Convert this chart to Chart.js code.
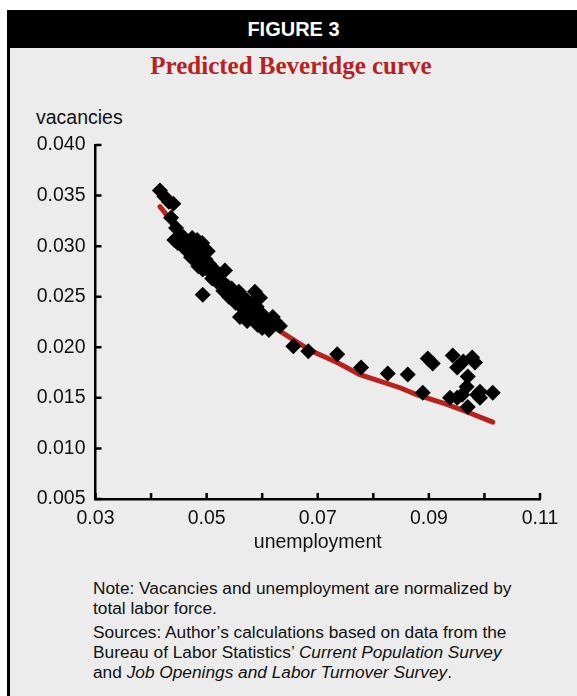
<!DOCTYPE html>
<html>
<head>
<meta charset="utf-8">
<script src="https://cdn.jsdelivr.net/npm/chart.js@4.4.1/dist/chart.umd.min.js"></script>
<style>
  html, body { margin: 0; padding: 0; background: #fff; }
  body { width: 577px; height: 696px; position: relative; overflow: hidden;
         font-family: "Liberation Sans", Arial, Helvetica, sans-serif; }
  #frame { position: absolute; left: 7px; top: 10px; width: 600px; height: 700px;
           background: #ececec; border-left: 3px solid #000; }
  #head { position: absolute; left: 7px; top: 10px; width: 600px; height: 38px; background: #000; }
  #head span { position: absolute; left: 0; width: 573px; top: 8px; text-align: center;
               color: #fff; font-weight: bold; font-size: 20px; }
  #title { position: absolute; left: 0; width: 582px; top: 52px; text-align: center;
           font-family: "Liberation Serif", "Times New Roman", serif; font-weight: bold;
           font-size: 25px; color: #b5231f; }
  #ylab { position: absolute; left: 36px; top: 106px; font-size: 19.5px; color: #111; }
  #chartBox { position: absolute; left: 0; top: 0; width: 577px; height: 560px; }
  #note { position: absolute; left: 93px; top: 578px; width: 480px; font-size: 17.3px;
          color: #111; line-height: 20px; }
  #note p { margin: 0 0 4px 0; }
  #note i { font-style: italic; }
</style>
</head>
<body>
<div id="frame"></div>
<div id="head"><span>FIGURE 3</span></div>
<div id="title">Predicted Beveridge curve</div>
<div id="ylab">vacancies</div>
<div id="chartBox"><canvas id="chart" width="577" height="560"></canvas></div>
<div id="note">
  <p>Note: Vacancies and unemployment are normalized by<br>total labor force.</p>
  <p>Sources: Author’s calculations based on data from the<br>Bureau of Labor Statistics’ <i>Current Population Survey</i><br>and <i>Job Openings and Labor Turnover Survey</i>.</p>
</div>

<script>
/* ===============================
   Data
================================ */
const unempObs = [
  0.0416, 0.0424, 0.0432, 0.0440, 0.0436,
  0.0445, 0.0452, 0.0442, 0.0448, 0.0458, 0.0465, 0.0474, 0.0483, 0.0492,
  0.0460, 0.0470, 0.0478, 0.0486, 0.0495, 0.0502, 0.0472, 0.0480, 0.0490,
  0.0498, 0.0505, 0.0485, 0.0493, 0.0503, 0.0512, 0.0520, 0.0533, 0.0510,
  0.0518, 0.0493,
  0.0528, 0.0538, 0.0530, 0.0545, 0.0550, 0.0540, 0.0558, 0.0565, 0.0573,
  0.0587, 0.0596, 0.0580, 0.0552, 0.0562, 0.0570, 0.0578, 0.0590, 0.0560,
  0.0573, 0.0585, 0.0598, 0.0605, 0.0592, 0.0610, 0.0619, 0.0625, 0.0632,
  0.0612, 0.0600,
  0.0656, 0.0683, 0.0735, 0.0778, 0.0826, 0.0862, 0.0889, 0.0898, 0.0907,
  0.0938, 0.0943, 0.0951, 0.0962, 0.0978, 0.0983, 0.0970, 0.0968, 0.0960,
  0.0951, 0.0987, 0.0992, 0.1015, 0.0970, 0.0992
];
const vacObs = [
  0.0355, 0.0349, 0.0344, 0.0342, 0.0328,
  0.0318, 0.0311, 0.0306, 0.0303, 0.0309, 0.0304, 0.0308, 0.0306, 0.0303,
  0.0298, 0.0295, 0.0297, 0.0292, 0.0296, 0.0295, 0.0289, 0.0286, 0.0284,
  0.0287, 0.0282, 0.0280, 0.0277, 0.0276, 0.0278, 0.0272, 0.0276, 0.0268,
  0.0265, 0.0252,
  0.0265, 0.0260, 0.0256, 0.0258, 0.0252, 0.0250, 0.0255, 0.0250, 0.0246,
  0.0255, 0.0249, 0.0243, 0.0244, 0.0240, 0.0236, 0.0238, 0.0240, 0.0230,
  0.0226, 0.0232, 0.0234, 0.0228, 0.0222, 0.0222, 0.0230, 0.0224, 0.0221,
  0.0217, 0.0219,
  0.0201, 0.0196, 0.0193, 0.0180, 0.0174, 0.0173, 0.0155, 0.0189, 0.0184,
  0.0150, 0.0192, 0.0180, 0.0186, 0.0190, 0.0185, 0.0171, 0.0161, 0.0153,
  0.0150, 0.0153, 0.0150, 0.0155, 0.0141, 0.0156
];
const unempPred = [
  0.0416, 0.0425, 0.0440, 0.0460, 0.0480, 0.0500, 0.0520, 0.0545, 0.0570,
  0.0600, 0.0632, 0.0686, 0.0735, 0.0776, 0.0848, 0.0879, 0.0930, 0.0969, 0.1015
];
const vacPred = [
  0.0339, 0.0333, 0.0321, 0.0305, 0.0291, 0.0278, 0.0265, 0.0250, 0.0237,
  0.0226, 0.0216, 0.0197, 0.0185, 0.0173, 0.0160, 0.0153, 0.0144, 0.0136, 0.0126
];
const xTicks = [0.03, 0.04, 0.05, 0.06, 0.07, 0.08, 0.09, 0.10, 0.11];
const xTickLabels = ["0.03", "", "0.05", "", "0.07", "", "0.09", "", "0.11"];
const yTicks = [0.005, 0.010, 0.015, 0.020, 0.025, 0.030, 0.035, 0.040];
const yTickLabels = ["0.005", "0.010", "0.015", "0.020", "0.025", "0.030", "0.035", "0.040"];

const FONT = "'Liberation Sans', Arial, Helvetica, sans-serif";

/* ===============================
   Inward tick marks
================================ */
const innerTicks = {
  id: "innerTicks",
  afterDraw(chart) {
    const { ctx, chartArea: a, scales: { x, y } } = chart;
    ctx.save();
    ctx.strokeStyle = "#000";
    ctx.lineWidth = 2.5;
    ctx.beginPath();
    xTicks.forEach(v => {
      const px = x.getPixelForValue(v);
      ctx.moveTo(px, a.bottom);
      ctx.lineTo(px, a.bottom - 6);
    });
    yTicks.forEach(v => {
      const py = y.getPixelForValue(v);
      ctx.moveTo(a.left, py);
      ctx.lineTo(a.left + 6, py);
    });
    ctx.stroke();
    ctx.restore();
  }
};

new Chart(document.getElementById("chart"), {
  type: "scatter",
  data: {
    datasets: [
      {
        type: "scatter",
        data: unempObs.map((u, i) => ({ x: u, y: vacObs[i] })),
        pointStyle: "rectRot",
        pointRadius: 8,
        pointBackgroundColor: "#000",
        pointBorderWidth: 0,
        order: 1
      },
      {
        type: "line",
        data: unempPred.map((u, i) => ({ x: u, y: vacPred[i] })),
        borderColor: "#b8221a",
        borderWidth: 5,
        pointRadius: 0,
        fill: false,
        tension: 0,
        borderCapStyle: "round",
        order: 2
      }
    ]
  },
  options: {
    responsive: false,
    animation: false,
    layout: { padding: { left: 0, right: 37, top: 145, bottom: 0 } },
    plugins: { legend: { display: false }, tooltip: { enabled: false } },
    scales: {
      x: {
        type: "linear",
        min: 0.03,
        max: 0.11,
        afterBuildTicks: s => { s.ticks = xTicks.map(v => ({ value: v })); },
        afterFit: s => { s.height = 61; },
        grid: { display: false, drawTicks: false },
        border: { display: true, color: "#000", width: 2.5 },
        ticks: {
          padding: 8,
          color: "#111",
          font: { family: FONT, size: 19.5 },
          maxRotation: 0,
          autoSkip: false,
          callback: (v, i) => xTickLabels[i]
        },
        title: {
          display: true,
          text: "unemployment",
          color: "#111",
          font: { family: FONT, size: 19.5 },
          padding: { top: 0, bottom: 6 }
        }
      },
      y: {
        type: "linear",
        min: 0.005,
        max: 0.040,
        afterBuildTicks: s => { s.ticks = yTicks.map(v => ({ value: v })); },
        afterFit: s => { s.width = 95.5; },
        grid: { display: false, drawTicks: false },
        border: { display: true, color: "#000", width: 2.5 },
        ticks: {
          padding: 10,
          color: "#111",
          font: { family: FONT, size: 19.5 },
          autoSkip: false,
          callback: (v, i) => yTickLabels[i]
        }
      }
    }
  },
  plugins: [innerTicks]
});
</script>
</body>
</html>
